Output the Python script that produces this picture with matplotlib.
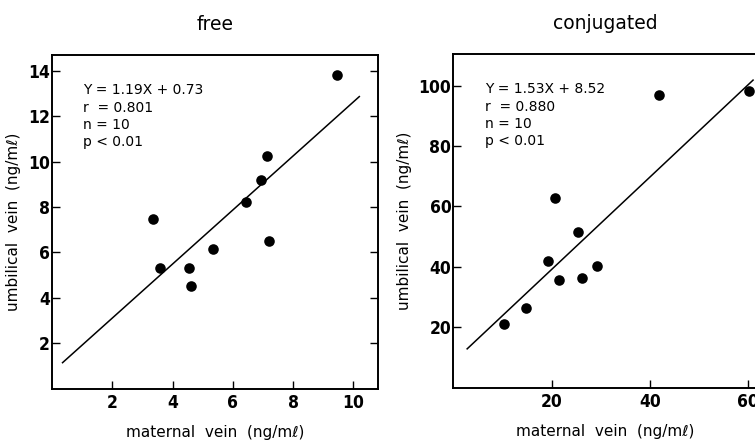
import matplotlib
matplotlib.use("Agg")
import matplotlib.pyplot as plt
import numpy as np

# ---- data: free ----
free_maternal = [9.47, 3.34, 3.57, 4.54, 4.63, 5.36, 6.43, 6.94, 7.12, 7.20]
free_umbilical = [13.82, 7.49, 5.33, 5.33, 4.54, 6.15, 8.21, 9.19, 10.26, 6.49]
free_fit = (1.19, 0.73)
free_fit_range = (0.35, 10.2)
free_stats = ["Y = 1.19X + 0.73", "r  = 0.801", "n = 10", "p < 0.01"]
free_xticks = [2, 4, 6, 8, 10]
free_yticks = [2, 4, 6, 8, 10, 12, 14]

# ---- data: conjugated ----
conj_maternal = [41.8, 60.2, 20.6, 25.4, 19.2, 21.4, 26.1, 29.2, 14.8, 10.2]
conj_umbilical = [97.0, 98.2, 62.7, 51.4, 41.8, 35.7, 36.3, 40.3, 26.5, 21.0]
conj_fit = (1.53, 8.52)
conj_fit_range = (2.8, 61.0)
conj_stats = ["Y = 1.53X + 8.52", "r  = 0.880", "n = 10", "p < 0.01"]
conj_xticks = [20, 40, 60]
conj_yticks = [20, 40, 60, 80, 100]

titles = ["free", "conjugated"]
xlabel = "maternal  vein  (ng/mℓ)"
ylabel = "umbilical  vein  (ng/mℓ)"

tick_font = dict(family="DejaVu Sans", stretch="condensed", weight="bold", size=12.5)
text_font = dict(family=["DejaVu Sans"], size=10)

fig = plt.figure(figsize=(7.55, 4.42), dpi=100)
axL = fig.add_axes([52/755, 1-388.7/442, (378-52)/755, (388.7-55)/442])
axR = fig.add_axes([453.4/755, 1-387.5/442, (757-453.4)/755, (387.5-54)/442])

panels = [
    (axL, free_maternal, free_umbilical, free_fit, free_fit_range, free_stats,
     free_xticks, free_yticks, (0, 10.82), (0, 14.7), True),
    (axR, conj_maternal, conj_umbilical, conj_fit, conj_fit_range, conj_stats,
     conj_xticks, conj_yticks, (0, 61.8), (0, 110.5), False),
]

for i, (ax, xs, ys, fit, fr, stats, xt, yt, xl, yl, right_ticks) in enumerate(panels):
    ax.scatter(xs, ys, s=58, color="black", zorder=3, linewidths=0)
    fx = np.array(fr)
    ax.plot(fx, fit[0]*fx + fit[1], color="black", lw=1.1)
    ax.set_xlim(*xl)
    ax.set_ylim(*yl)
    ax.set_xticks(xt)
    ax.set_yticks(yt)
    ax.set_xticklabels([str(v) for v in xt], **tick_font)
    ax.set_yticklabels([str(v) for v in yt], **tick_font)
    ax.tick_params(axis="both", direction="in", length=6, width=1.0, pad=1.5)
    ax.tick_params(axis="x", pad=4)
    ax.tick_params(axis="y", right=right_ticks)
    for sp in ax.spines.values():
        sp.set_linewidth(1.4)
    ax.set_title(titles[i], fontsize=13.5, pad=18, family="DejaVu Sans")
    ax.set_xlabel(xlabel, fontsize=11, labelpad=9.5)
    ax.set_ylabel(ylabel, fontsize=11, labelpad=5)
    ax.text(0.095 if i == 0 else 0.105, 0.915, "\n".join(stats), transform=ax.transAxes,
            va="top", ha="left", linespacing=1.3, **text_font)

fig.savefig("out.png", dpi=100)
